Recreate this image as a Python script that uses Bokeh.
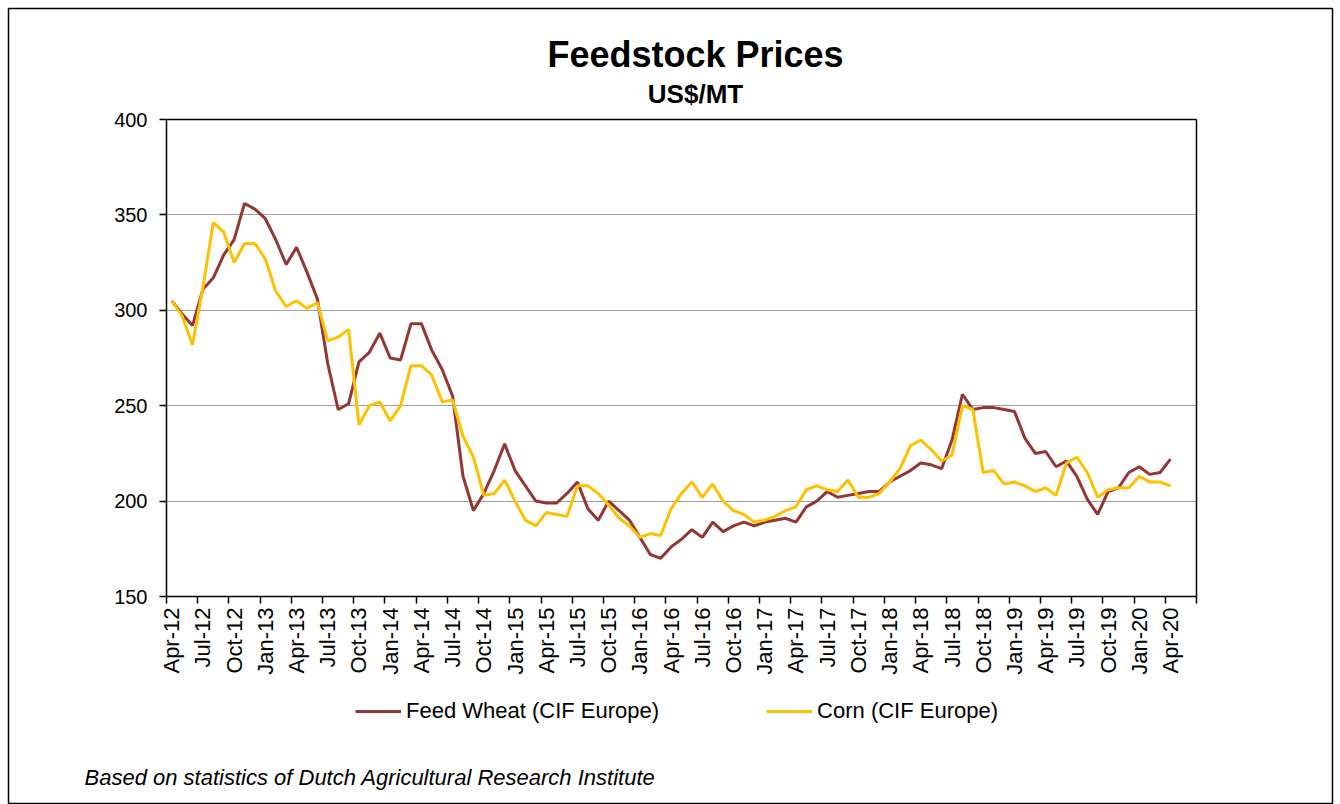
from math import pi
from bokeh.plotting import figure
from bokeh.models import (LinearAxis, FixedTicker, Grid, Legend, LegendItem,
                          Label, ColumnDataSource, Range1d)
from bokeh.embed import file_html
from bokeh.resources import INLINE

# ---------------- data ----------------
tick_labels = ["Apr-12", "Jul-12", "Oct-12", "Jan-13", "Apr-13", "Jul-13", "Oct-13",
               "Jan-14", "Apr-14", "Jul-14", "Oct-14", "Jan-15", "Apr-15", "Jul-15",
               "Oct-15", "Jan-16", "Apr-16", "Jul-16", "Oct-16", "Jan-17", "Apr-17",
               "Jul-17", "Oct-17", "Jan-18", "Apr-18", "Jul-18", "Oct-18", "Jan-19",
               "Apr-19", "Jul-19", "Oct-19", "Jan-20", "Apr-20"]

wheat = [305, 298, 292, 311, 317, 329, 337, 356, 353, 348, 337, 324,
         333, 320, 306, 272, 248, 251, 273, 278, 288, 275, 274, 293,
         293, 279, 269, 255, 213, 195, 204, 216, 230, 216, 208, 200,
         199, 199, 204, 210, 196, 190, 200, 195, 190, 181, 172, 170,
         176, 180, 185, 181, 189, 184, 187, 189, 187, 189, 190, 191,
         189, 197, 200, 205, 202, 203, 204, 205, 205, 210, 213, 216,
         220, 219, 217, 232, 256, 248, 249, 249, 248, 247, 233, 225,
         226, 218, 221, 213, 201, 193, 205, 207, 215, 218, 214, 215,
         222]

corn = [305, 297, 282, 312, 346, 341, 325, 335, 335, 327, 310, 302,
        305, 301, 304, 284, 286, 290, 240, 250, 252, 242, 250, 271,
        271, 266, 252, 253, 234, 223, 203, 204, 211, 200, 190, 187,
        194, 193, 192, 208, 208, 204, 198, 191, 187, 181, 183, 182,
        196, 204, 210, 202, 209, 200, 195, 193, 189, 190, 192, 195,
        197, 206, 208, 206, 205, 211, 202, 202, 204, 210, 217, 229,
        232, 227, 221, 224, 250, 248, 215, 216, 209, 210, 208, 205,
        207, 203, 220, 223, 215, 202, 206, 207, 207, 213, 210, 210,
        208]

series_names = ["Feed Wheat (CIF Europe)", "Corn (CIF Europe)"]
n_slots = 99  # monthly category slots on the axis (Apr-12 .. Jun-20)
y_min, y_max = 150, 400
y_ticks = [150, 200, 250, 300, 350, 400]
grid_ticks = [200, 250, 300, 350]

FONT = "Liberation Sans"
WHEAT_C = "#943634"
CORN_C = "#FFC000"
GRID_C = "#a0a0a0"

# ---------------- layout (pixels) ----------------
W, H = 1340, 804
OUT_L, OUT_T, OUT_R, OUT_B = 8, 8, 1332, 804        # outer chart border
PL, PT, PR, PB = 166, 119, 1196, 596                # plot area

x0, x1 = -0.5, n_slots - 0.5
kx = (PR - PL) / (x1 - x0)
ky = (PB - PT) / (y_max - y_min)
xr = Range1d(x0 - (PL - OUT_L) / kx, x1 + (OUT_R - PR) / kx)
yr = Range1d(y_min - (OUT_B - PB) / ky, y_max + (PT - OUT_T) / ky)

src = ColumnDataSource(dict(x=list(range(len(wheat))), wheat=wheat, corn=corn))

p = figure(width=W, height=H, x_range=xr, y_range=yr,
           output_backend="svg", toolbar_location=None,
           x_axis_location=None, y_axis_location=None,
           min_border_left=OUT_L, min_border_right=W - OUT_R,
           min_border_top=OUT_T, min_border_bottom=H - OUT_B)
p.center = [c for c in p.center if not isinstance(c, Grid)]
p.outline_line_color = "black"
p.outline_line_width = 1.5
p.background_fill_color = "white"
p.border_fill_color = "white"

# horizontal grid lines limited to the plot area: inward ticks of an axis on the right edge
grid_ax = LinearAxis(ticker=FixedTicker(ticks=grid_ticks), fixed_location=x1,
                     bounds=(y_min, y_max), level="underlay")
grid_ax.axis_line_color = None
grid_ax.major_tick_in = PR - PL
grid_ax.major_tick_out = 0
grid_ax.major_tick_line_color = GRID_C
grid_ax.major_tick_line_width = 1.2
grid_ax.minor_tick_line_color = None
grid_ax.major_label_text_font_size = "1px"
grid_ax.major_label_text_color = None
p.add_layout(grid_ax, "right")

# y axis (left edge of the plot area)
yax = LinearAxis(ticker=FixedTicker(ticks=y_ticks), fixed_location=x0, bounds=(y_min, y_max))
yax.axis_line_color = "black"
yax.axis_line_width = 1.5
yax.major_tick_in = 0
yax.major_tick_out = 7
yax.major_tick_line_width = 1.5
yax.minor_tick_line_color = None
yax.major_label_standoff = 12
yax.major_label_text_font = FONT
yax.major_label_text_font_size = "20px"
yax.major_label_text_color = "black"
p.add_layout(yax, "left")

# x axis: line + tick marks at category boundaries (labels not painted)
xa = LinearAxis(ticker=FixedTicker(ticks=[i - 0.5 for i in range(0, n_slots + 1, 3)]),
                fixed_location=y_min, bounds=(x0, x1))
xa.axis_line_color = "black"
xa.axis_line_width = 1.5
xa.major_tick_in = 0
xa.major_tick_out = 7
xa.major_tick_line_width = 1.5
xa.minor_tick_line_color = None
xa.major_label_text_font_size = "1px"
xa.major_label_text_color = None
xa.major_label_standoff = 0
p.add_layout(xa, "below")

# x axis: labels at category centres
label_pos = list(range(0, 3 * len(tick_labels), 3))
xb = LinearAxis(ticker=FixedTicker(ticks=label_pos), fixed_location=y_min, bounds=(x0, x1))
xb.major_label_overrides = {pos: lab for pos, lab in zip(label_pos, tick_labels)}
xb.axis_line_color = None
xb.major_tick_line_color = None
xb.major_tick_in = 0
xb.major_tick_out = 0
xb.minor_tick_line_color = None
xb.major_label_orientation = pi / 2
xb.major_label_standoff = 11
xb.major_label_text_font = FONT
xb.major_label_text_font_size = "22px"
xb.major_label_text_color = "black"
p.add_layout(xb, "below")

# top and right edges of the plot area
top_ax = LinearAxis(ticker=FixedTicker(ticks=[]), fixed_location=y_max, bounds=(x0, x1))
top_ax.axis_line_color = "black"
top_ax.axis_line_width = 1.5
top_ax.major_tick_line_color = None
top_ax.minor_tick_line_color = None
p.add_layout(top_ax, "above")

right_ax = LinearAxis(ticker=FixedTicker(ticks=[]), fixed_location=x1, bounds=(y_min, y_max))
right_ax.axis_line_color = "black"
right_ax.axis_line_width = 1.5
right_ax.major_tick_line_color = None
right_ax.minor_tick_line_color = None
p.add_layout(right_ax, "right")

r1 = p.line("x", "wheat", source=src, line_color=WHEAT_C, line_width=3)
r2 = p.line("x", "corn", source=src, line_color=CORN_C, line_width=3)

# legend below the category labels (screen position relative to frame bottom-left)
legend = Legend(items=[LegendItem(label=series_names[0], renderers=[r1]),
                       LegendItem(label=series_names[1], renderers=[r2])],
                orientation="horizontal", location=(355 - OUT_L, OUT_B - 712 - 12),
                spacing=107, glyph_width=46, glyph_height=22, label_standoff=5,
                border_line_color=None, background_fill_alpha=0,
                label_text_font=FONT, label_text_font_size="22px",
                label_text_color="black", padding=0, margin=0)
p.add_layout(legend)

# titles and source note
p.add_layout(Label(x=695 - OUT_L, y=OUT_B - 54, x_units="screen", y_units="screen",
                   text="Feedstock Prices", text_font=FONT, text_font_style="bold",
                   text_font_size="36px", text_align="center",
                   text_baseline="middle", text_color="black"))
p.add_layout(Label(x=695 - OUT_L, y=OUT_B - 93, x_units="screen", y_units="screen",
                   text="US$/MT", text_font=FONT, text_font_style="bold",
                   text_font_size="26px", text_align="center",
                   text_baseline="middle", text_color="black"))
p.add_layout(Label(x=84 - OUT_L, y=OUT_B - 777, x_units="screen", y_units="screen",
                   text="Based on statistics of Dutch Agricultural Research Institute",
                   text_font=FONT, text_font_style="italic", text_font_size="22px",
                   text_align="left", text_baseline="middle", text_color="black"))

open("out.html", "w").write(file_html(p, INLINE))
